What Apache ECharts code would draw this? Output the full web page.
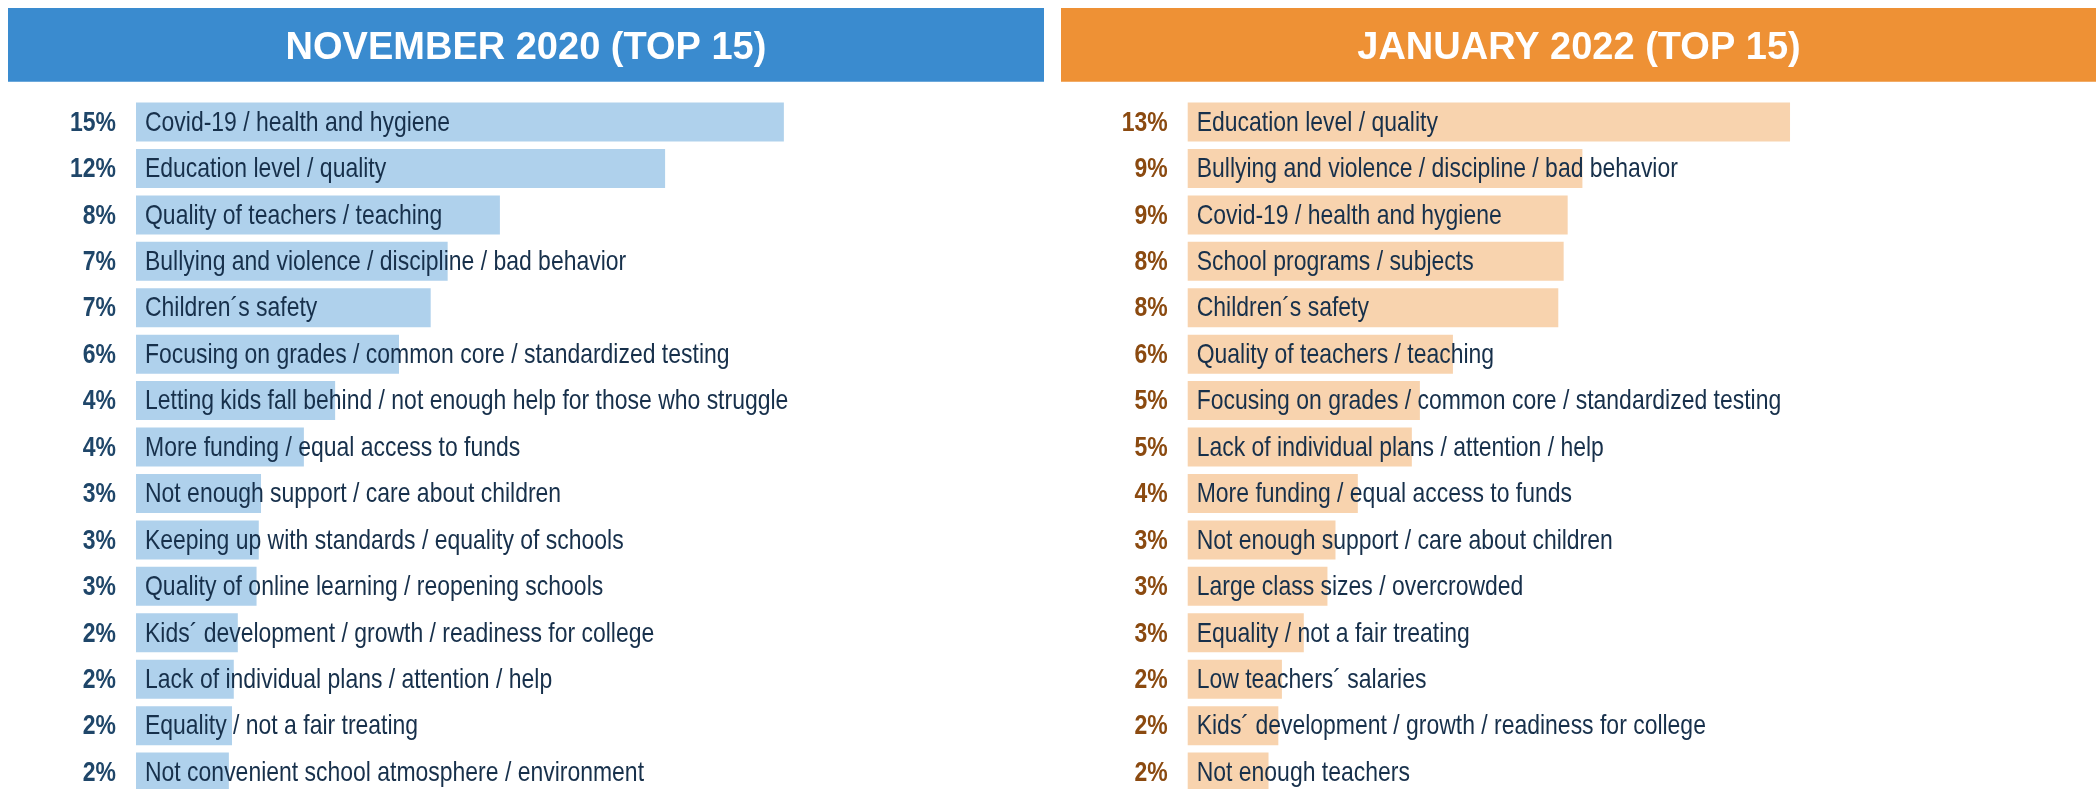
<!DOCTYPE html>
<html>
<head>
<meta charset="utf-8">
<script src="https://cdn.jsdelivr.net/npm/echarts@6/dist/echarts.min.js"></script>
<style>
  html, body { margin: 0; padding: 0; background: #ffffff; overflow: hidden; }
  #chart { width: 2098px; height: 800px; }
</style>
</head>
<body>
<div id="chart"></div>
<script>
const title2020 = 'NOVEMBER 2020 (TOP 15)';
const title2022 = 'JANUARY 2022 (TOP 15)';

const categories2020 = [
  'Covid-19 / health and hygiene',
  'Education level / quality',
  'Quality of teachers / teaching',
  'Bullying and violence / discipline / bad behavior',
  'Children\u00B4s safety',
  'Focusing on grades / common core / standardized testing',
  'Letting kids fall behind / not enough help for those who struggle',
  'More funding / equal access to funds',
  'Not enough support / care about children',
  'Keeping up with standards / equality of schools',
  'Quality of online learning / reopening schools',
  'Kids\u00B4 development / growth / readiness for college',
  'Lack of individual plans / attention / help',
  'Equality / not a fair treating',
  'Not convenient school atmosphere / environment'
];
const values2020 = [14.51, 11.85, 8.15, 6.98, 6.60, 5.89, 4.46, 3.76, 2.80, 2.75, 2.70, 2.28, 2.19, 2.15, 2.08];

const categories2022 = [
  'Education level / quality',
  'Bullying and violence / discipline / bad behavior',
  'Covid-19 / health and hygiene',
  'School programs / subjects',
  'Children\u00B4s safety',
  'Quality of teachers / teaching',
  'Focusing on grades / common core / standardized testing',
  'Lack of individual plans / attention / help',
  'More funding / equal access to funds',
  'Not enough support / care about children',
  'Large class sizes / overcrowded',
  'Equality / not a fair treating',
  'Low teachers\u00B4 salaries',
  'Kids\u00B4 development / growth / readiness for college',
  'Not enough teachers'
];
const values2022 = [13.49, 8.84, 8.51, 8.42, 8.30, 5.94, 5.20, 5.02, 3.81, 3.31, 3.13, 2.60, 2.11, 2.03, 1.81];

const FONT = '"Liberation Sans", Arial, Helvetica, sans-serif';
const LABEL_COLOR = '#17304b';
const NARROW_SCALE = 0.82;   // narrow (condensed) look of the original labels
const LABEL_SIZE = 28;

const chart = echarts.init(document.getElementById('chart'), null, { renderer: 'canvas' });

function yAxisFor(idx, cats) {
  return {
    type: 'category', gridIndex: idx, inverse: true, data: cats,
    axisLine: { show: false }, axisTick: { show: false }, splitLine: { show: false },
    axisLabel: { show: false }
  };
}
function xAxisFor(idx) {
  return { type: 'value', gridIndex: idx, min: 0, max: 20, show: false };
}
function barSeries(idx, vals, barColor) {
  return {
    type: 'bar', xAxisIndex: idx, yAxisIndex: idx, data: vals, barWidth: 39,
    itemStyle: { color: barColor }, silent: true, animation: false
  };
}
function labelSeries(idx, vals, cats, pctColor) {
  return {
    type: 'custom', xAxisIndex: idx, yAxisIndex: idx, z: 10, silent: true, animation: false,
    data: vals.map((v, i) => [v, i]),
    encode: { x: 0, y: 1 },
    renderItem: function (params, api) {
      const v = api.value(0);
      const i = api.value(1);
      const p = api.coord([0, i]);
      const y = p[1] + 1;
      return {
        type: 'group',
        children: [
          {
            type: 'text', x: p[0] - 20, y: y, scaleX: NARROW_SCALE,
            style: {
              text: Math.round(v) + '%', fill: pctColor,
              font: 'bold ' + LABEL_SIZE + 'px ' + FONT,
              textAlign: 'right', textVerticalAlign: 'middle'
            }
          },
          {
            type: 'text', x: p[0] + 9, y: y, scaleX: NARROW_SCALE,
            style: {
              text: cats[params.dataIndex], fill: LABEL_COLOR,
              font: LABEL_SIZE + 'px ' + FONT,
              textAlign: 'left', textVerticalAlign: 'middle'
            }
          }
        ]
      };
    }
  };
}

chart.setOption({
  animation: false,
  grid: [
    { left: 136, top: 98.8, width: 893, height: 696.5 },
    { left: 1187.7, top: 98.8, width: 893, height: 696.5 }
  ],
  xAxis: [xAxisFor(0), xAxisFor(1)],
  yAxis: [yAxisFor(0, categories2020), yAxisFor(1, categories2022)],
  series: [
    barSeries(0, values2020, '#afd1ec'),
    barSeries(1, values2022, '#f8d3ae'),
    labelSeries(0, values2020, categories2020, '#1f4669'),
    labelSeries(1, values2022, categories2022, '#8b4a10')
  ],
  graphic: [
    { type: 'rect', shape: { x: 8, y: 8, width: 1036, height: 73.7 }, style: { fill: '#3a8bcf' }, silent: true },
    { type: 'rect', shape: { x: 1061, y: 8, width: 1035, height: 73.7 }, style: { fill: '#ee9135' }, silent: true },
    { type: 'text', x: 526, y: 49, style: { text: title2020, fill: '#ffffff', font: 'bold 38px ' + FONT, textAlign: 'center', textVerticalAlign: 'middle' }, silent: true },
    { type: 'text', x: 1579, y: 49, style: { text: title2022, fill: '#ffffff', font: 'bold 38px ' + FONT, textAlign: 'center', textVerticalAlign: 'middle' }, silent: true }
  ]
});
</script>
</body>
</html>
